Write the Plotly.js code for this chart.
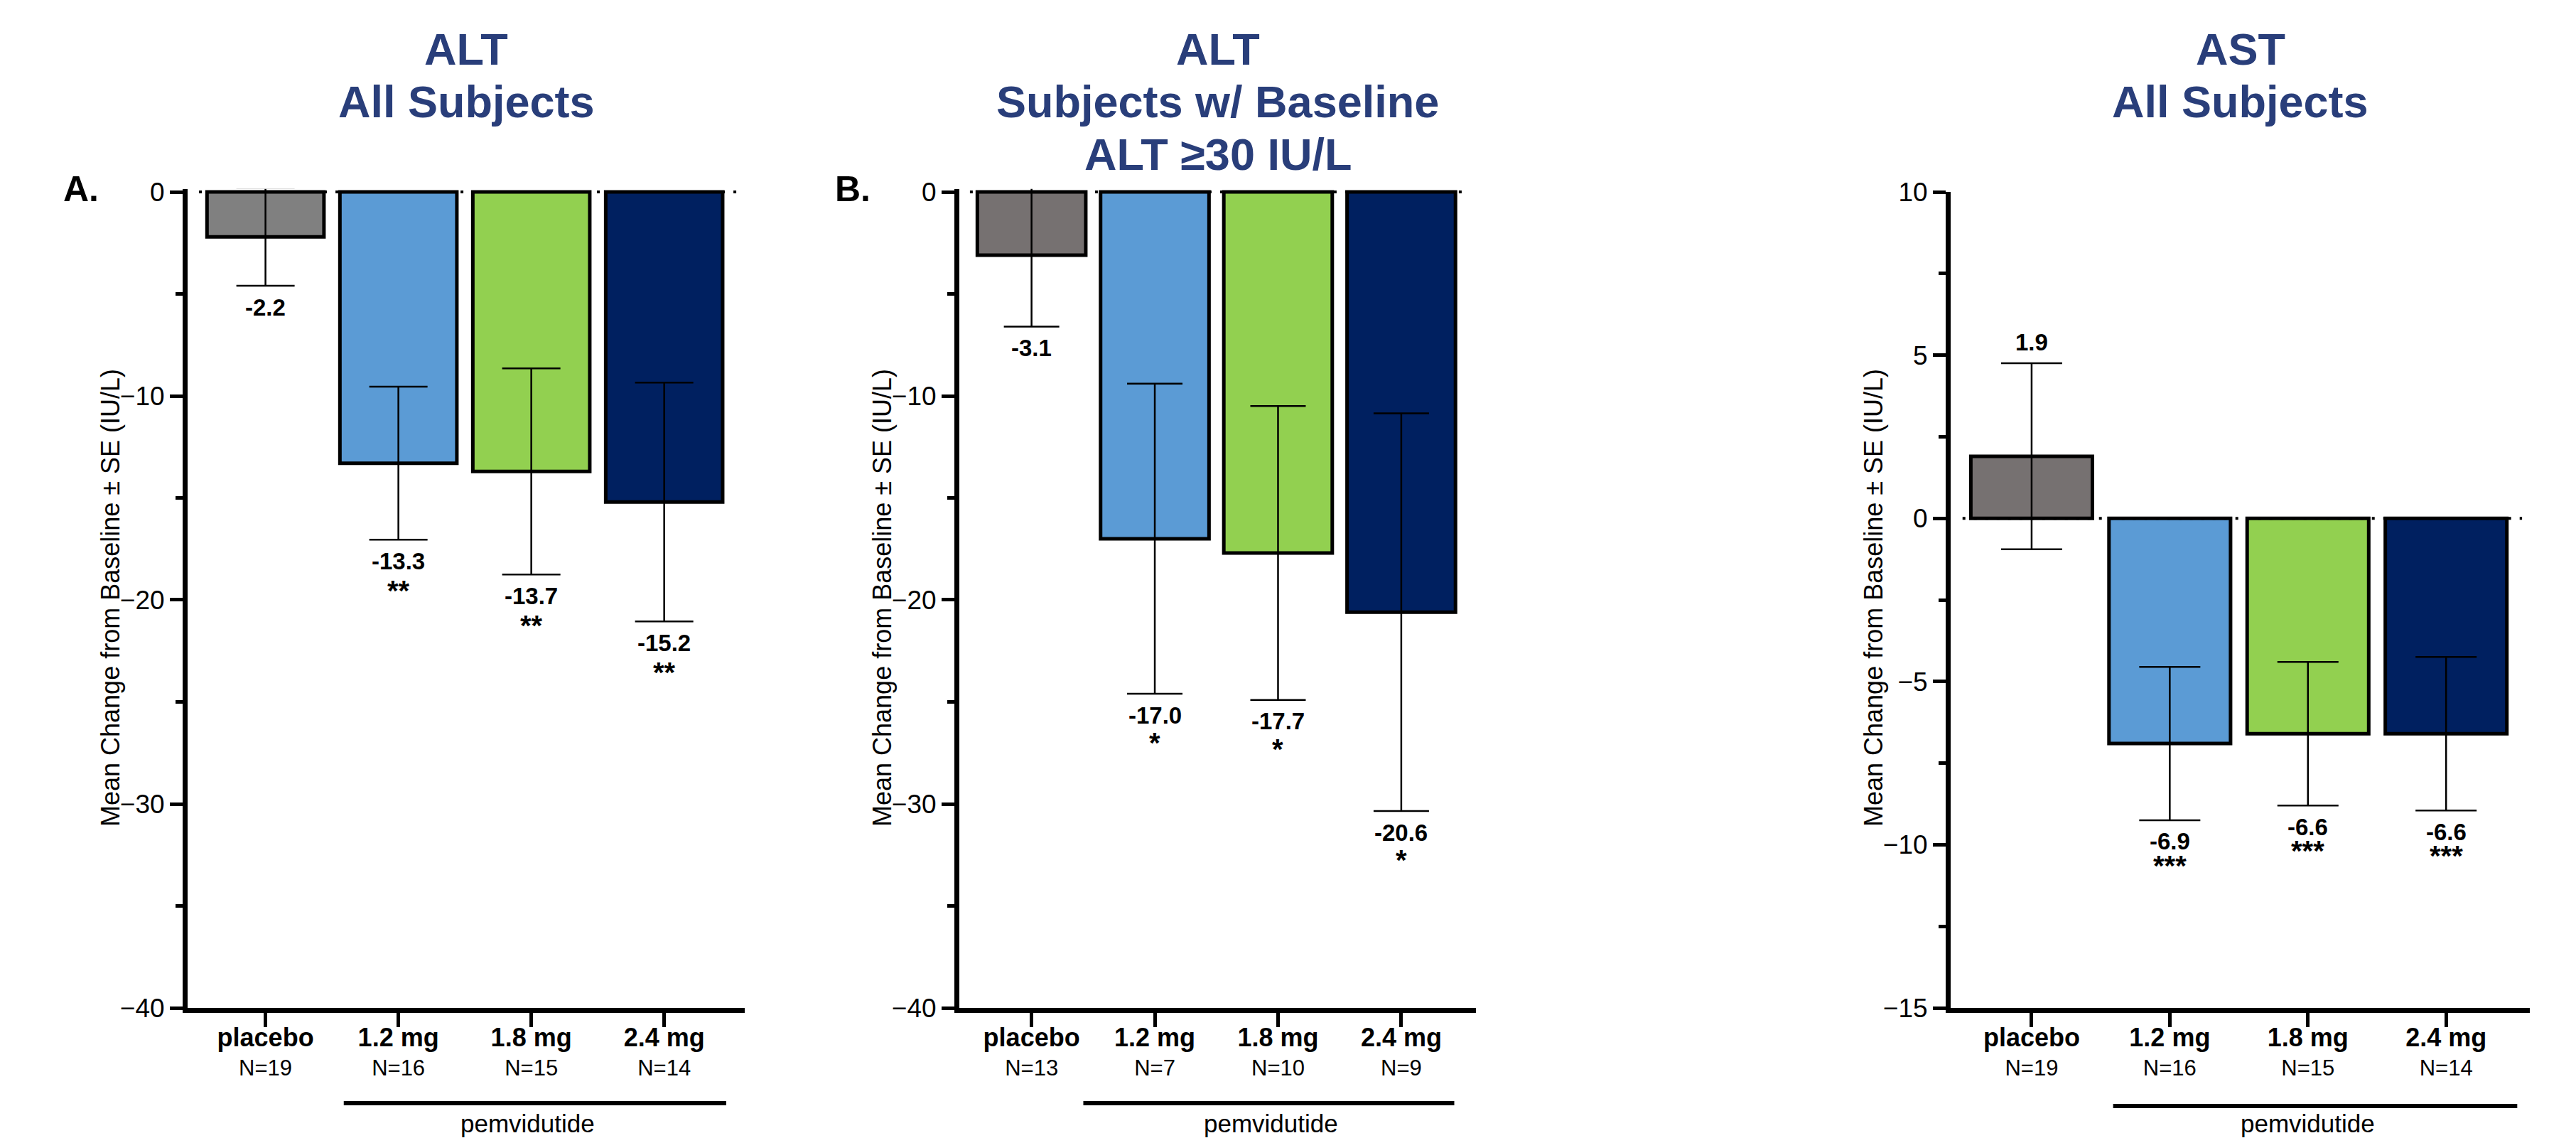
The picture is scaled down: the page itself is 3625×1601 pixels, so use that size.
<!DOCTYPE html>
<html>
<head>
<meta charset="utf-8">
<script src="https://cdn.plot.ly/plotly-3.0.1.min.js"></script>
<style>
  html, body { margin: 0; padding: 0; background: #ffffff; }
  #chart { width: 3625px; height: 1601px; }
</style>
</head>
<body>
<div id="chart"></div>
<script>
// ---------------- DATA ----------------
const categories = ['placebo', '1.2 mg', '1.8 mg', '2.4 mg'];
const groupLabel = 'pemvidutide';
const yAxisTitle = 'Mean Change from Baseline \u00b1 SE (IU/L)';

// Panel A: ALT, all subjects
const titleA = ['ALT', 'All Subjects'];
const nA = [19, 16, 15, 14];
const meanA = [-2.2, -13.3, -13.7, -15.2];
const seA = [2.4, 3.75, 5.05, 5.85];
const starsA = ['', '**', '**', '**'];

// Panel B: ALT, subjects with baseline ALT >= 30 IU/L
const titleB = ['ALT', 'Subjects w/ Baseline', 'ALT \u226530 IU/L'];
const nB = [13, 7, 10, 9];
const meanB = [-3.1, -17.0, -17.7, -20.6];
const seB = [3.5, 7.6, 7.2, 9.75];
const starsB = ['', '*', '*', '*'];

// Panel C: AST, all subjects
const titleC = ['AST', 'All Subjects'];
const nC = [19, 16, 15, 14];
const meanC = [1.9, -6.9, -6.6, -6.6];
const seC = [2.85, 2.35, 2.2, 2.35];
const starsC = ['', '***', '***', '***'];

const panelLetters = ['A.', 'B.', ''];

// ---------------- STYLE ----------------
const W = 3625, H = 1601;
const FONT = 'Arial, "Liberation Sans", Helvetica, sans-serif';
const TITLE_COLOR = '#293E7A';
const barColorsA = ['#808080', '#5B9BD5', '#92D050', '#002060'];
const barColorsB = ['#767171', '#5B9BD5', '#92D050', '#002060'];
const barColorsC = ['#767171', '#5B9BD5', '#92D050', '#002060'];

const panels = [
  { title: titleA, n: nA, mean: meanA, se: seA, stars: starsA, colors: barColorsA,
    px: [264, 1048], yrange: [-40, 0.15], dtick: 10, minor: 5, cap: 41,
    bracket: [0.589, 3.467], groupX: 1.97, bracketY: 1552, starGap: 38 },
  { title: titleB, n: nB, mean: meanB, se: seB, stars: starsB, colors: barColorsB,
    px: [1350, 2077], yrange: [-40, 0.15], dtick: 10, minor: 5, cap: 39,
    bracket: [0.42, 3.43], groupX: 1.94, bracketY: 1552, starGap: 35 },
  { title: titleC, n: nC, mean: meanC, se: seC, stars: starsC, colors: barColorsC,
    px: [2745, 3560], yrange: [-15, 10], dtick: 5, minor: 2.5, cap: 43,
    bracket: [0.59, 3.515], groupX: 2.0, bracketY: 1556, starGap: 30 }
];

const plotTopPx = 270, plotBottomPx = 1418;
const xRange = [-0.586, 3.606];

const data = [];
const layout = {
  width: W, height: H,
  margin: { l: 0, r: 0, t: 0, b: 0, pad: 0 },
  paper_bgcolor: '#ffffff',
  plot_bgcolor: 'rgba(0,0,0,0)',
  showlegend: false,
  font: { family: FONT, color: '#000000' },
  annotations: [],
  shapes: []
};

panels.forEach((p, i) => {
  const sfx = i === 0 ? '' : String(i + 1);
  const xa = 'x' + sfx, ya = 'y' + sfx;
  const xKey = 'xaxis' + sfx, yKey = 'yaxis' + sfx;

  const topVal = p.yrange[1] > 0.5 ? p.yrange[1] : 0;
  const pxPerUnit = (plotBottomPx - plotTopPx) / (topVal - p.yrange[0]);
  const domTopPx = plotTopPx - (p.yrange[1] - topVal) * pxPerUnit;
  const yDomain = [1 - plotBottomPx / H, 1 - domTopPx / H];
  const xDomain = [p.px[0] / W, p.px[1] / W];

  data.push({
    type: 'bar',
    x: categories,
    y: p.mean,
    xaxis: xa, yaxis: ya,
    width: 0.88,
    marker: { color: p.colors, line: { color: '#000000', width: 5 } },
    error_y: { type: 'data', array: p.se, visible: true, color: '#000000', thickness: 2.5, width: p.cap },
    hoverinfo: 'skip'
  });

  const ticktext = categories.map((c, k) =>
    '<span style="font-size:36px"><b>' + c + '</b></span><br>N=' + p.n[k]);

  layout[xKey] = {
    domain: xDomain, anchor: ya, type: 'category',
    range: xRange,
    showline: true, linewidth: 7, linecolor: '#000000',
    ticks: 'outside', ticklen: 20, tickwidth: 5, tickcolor: '#000000',
    tickmode: 'array', tickvals: categories, ticktext: ticktext,
    tickfont: { size: 31, family: FONT, color: '#000000' },
    ticklabelstandoff: -10,
    showgrid: false, zeroline: false, fixedrange: true
  };
  layout[yKey] = {
    domain: yDomain, anchor: xa,
    range: p.yrange,
    tickmode: 'linear', tick0: 0, dtick: p.dtick,
    showline: true, linewidth: 7, linecolor: '#000000',
    ticks: 'outside', ticklen: 18, tickwidth: 5, tickcolor: '#000000',
    tickfont: { size: 37, family: FONT, color: '#000000' },
    minor: { dtick: p.minor, tick0: 0, ticks: 'outside', ticklen: 10, tickwidth: 5, tickcolor: '#000000', showgrid: false },
    showgrid: false, zeroline: false, fixedrange: true
  };

  // dotted zero reference line
  layout.shapes.push({
    type: 'line', xref: xa, yref: ya, x0: -0.5, x1: 3.55, y0: 0, y1: 0,
    line: { color: '#000000', width: 4, dash: '4px,12px' }, layer: 'above'
  });

  // pemvidutide bracket
  layout.shapes.push({
    type: 'line', xref: xa, yref: 'paper',
    x0: p.bracket[0], x1: p.bracket[1],
    y0: 1 - p.bracketY / H, y1: 1 - p.bracketY / H,
    line: { color: '#000000', width: 6 }
  });
  layout.annotations.push({
    xref: xa, yref: 'paper', x: p.groupX, y: 0,
    xanchor: 'center', yanchor: 'bottom', showarrow: false, borderpad: 0,
    text: groupLabel, font: { size: 35, family: FONT, color: '#000000' }
  });

  // panel title lines
  const xc = (xDomain[0] + xDomain[1]) / 2;
  p.title.forEach((line, k) => {
    layout.annotations.push({
      xref: 'paper', yref: 'paper', x: xc, y: 1 - (69 + 74 * k) / H,
      xanchor: 'center', yanchor: 'middle', showarrow: false,
      text: '<b>' + line + '</b>',
      font: { size: 63, family: FONT, color: TITLE_COLOR }
    });
  });

  // y-axis title
  layout.annotations.push({
    xref: 'paper', yref: 'paper', x: (p.px[0] - 108) / W, y: 1 - ((plotTopPx + plotBottomPx) / 2 - 3) / H,
    xanchor: 'center', yanchor: 'middle', showarrow: false, textangle: -90,
    text: yAxisTitle, font: { size: 36, family: FONT, color: '#000000' }
  });

  // panel letter
  if (panelLetters[i]) {
    layout.annotations.push({
      xref: 'paper', yref: 'paper', x: (p.px[0] - 150) / W, y: 1 - 266 / H,
      xanchor: 'center', yanchor: 'middle', showarrow: false,
      text: '<b>' + panelLetters[i] + '</b>',
      font: { size: 50, family: FONT, color: '#000000' }
    });
  }

  // value labels and significance stars
  categories.forEach((c, k) => {
    const m = p.mean[k], s = p.se[k];
    const neg = m < 0;
    const yEnd = neg ? m - s : m + s;
    layout.annotations.push({
      xref: xa, yref: ya, x: c, y: yEnd,
      xanchor: 'center', yanchor: 'middle', showarrow: false,
      yshift: neg ? -30 : 30,
      text: '<b>' + m.toFixed(1) + '</b>',
      font: { size: 33, family: FONT, color: '#000000' }
    });
    if (p.stars[k]) {
      layout.annotations.push({
        xref: xa, yref: ya, x: c, y: yEnd,
        xanchor: 'center', yanchor: 'middle', showarrow: false,
        yshift: -30 - p.starGap - 4,
        text: '<b>' + p.stars[k] + '</b>',
        font: { size: 40, family: FONT, color: '#000000' }
      });
    }
  });
});

Plotly.newPlot('chart', data, layout, { staticPlot: true, displayModeBar: false });
</script>
</body>
</html>
